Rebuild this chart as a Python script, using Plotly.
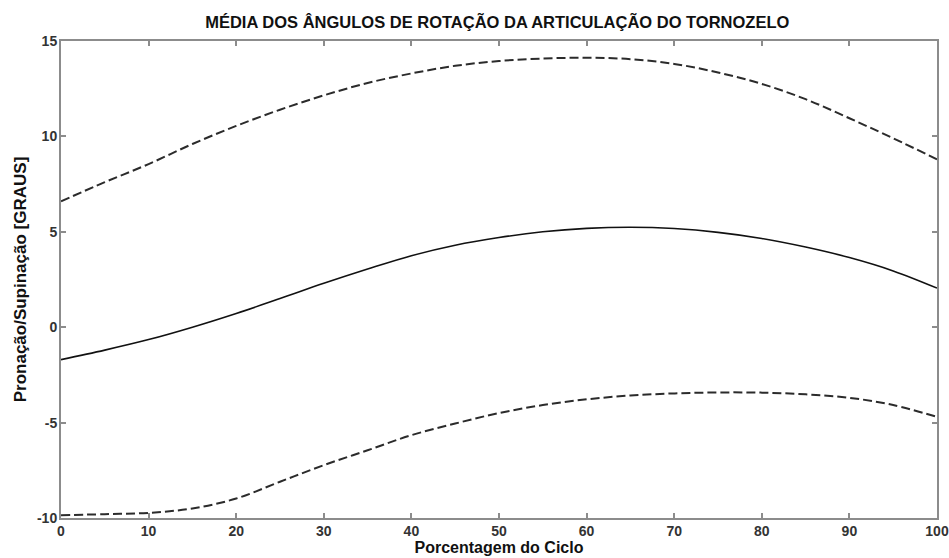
import plotly.graph_objects as go

# Percentage of the gait cycle
cycle_pct = [0, 5, 10, 15, 20, 25, 30, 35, 40, 45, 50,
             55, 60, 65, 70, 75, 80, 85, 90, 95, 100]

# Upper band (mean + SD), degrees
upper_band = [6.6, 7.6, 8.55, 9.6, 10.55, 11.4, 12.15, 12.8, 13.3, 13.7, 13.95,
              14.08, 14.12, 14.05, 13.8, 13.35, 12.75, 11.95, 10.95, 9.9, 8.8]

# Mean pronation/supination angle, degrees
mean_angle = [-1.7, -1.2, -0.65, 0.0, 0.72, 1.5, 2.3, 3.05, 3.75, 4.3, 4.7,
              5.0, 5.18, 5.24, 5.17, 4.97, 4.65, 4.2, 3.65, 2.95, 2.05]

# Lower band (mean - SD), degrees
lower_band = [-9.85, -9.8, -9.73, -9.5, -8.98, -8.1, -7.23, -6.45, -5.66, -5.05, -4.5,
              -4.08, -3.78, -3.58, -3.47, -3.42, -3.43, -3.52, -3.7, -4.08, -4.7]

x_ticks = [0, 10, 20, 30, 40, 50, 60, 70, 80, 90, 100]
y_ticks = [-10, -5, 0, 5, 10, 15]
y_tick_text = ["-10", "-5", "0", "5", "10", "15"]

FONT = "Liberation Sans, Arial, sans-serif"
DASH = "9px,4px"

fig = go.Figure()
fig.add_trace(go.Scatter(x=cycle_pct, y=upper_band, mode="lines", line_shape="spline",
                         line=dict(color="#2b2b2b", width=2, dash=DASH)))
fig.add_trace(go.Scatter(x=cycle_pct, y=mean_angle, mode="lines", line_shape="spline",
                         line=dict(color="#111111", width=1.6)))
fig.add_trace(go.Scatter(x=cycle_pct, y=lower_band, mode="lines", line_shape="spline",
                         line=dict(color="#2b2b2b", width=2, dash=DASH)))

axis_common = dict(
    showgrid=False, zeroline=False, showline=True, mirror="ticks",
    linecolor="#8c8c8c", linewidth=2, ticks="inside", ticklen=5,
    tickcolor="#8c8c8c", tickwidth=1.5, automargin=False,
    ticklabeloverflow="allow",
    tickfont=dict(family=FONT, size=14, color="#333333", weight="bold"),
)

fig.update_layout(
    width=949, height=558,
    margin=dict(l=61, r=12, t=41, b=40),
    paper_bgcolor="white", plot_bgcolor="white",
    showlegend=False,
    title=dict(text="MÉDIA DOS ÂNGULOS DE ROTAÇÃO DA ARTICULAÇÃO DO TORNOZELO",
               x=0.524, xanchor="center", y=0.96, yanchor="middle",
               font=dict(family=FONT, size=16.5, color="#111111", weight="bold")),
    xaxis=dict(range=[0, 100], tickvals=x_ticks, ticklabelstandoff=-1,
               title=dict(text="Porcentagem do Ciclo", standoff=1,
                          font=dict(family=FONT, size=16, color="#111111", weight="bold")),
               **axis_common),
    yaxis=dict(range=[-10, 15], tickvals=y_ticks, ticktext=y_tick_text, ticklabelstandoff=-1,
               title=dict(text="Pronação/Supinação [GRAUS]", standoff=6,
                          font=dict(family=FONT, size=17, color="#111111", weight="bold")),
               **axis_common),
)

fig.write_html("out.html")
